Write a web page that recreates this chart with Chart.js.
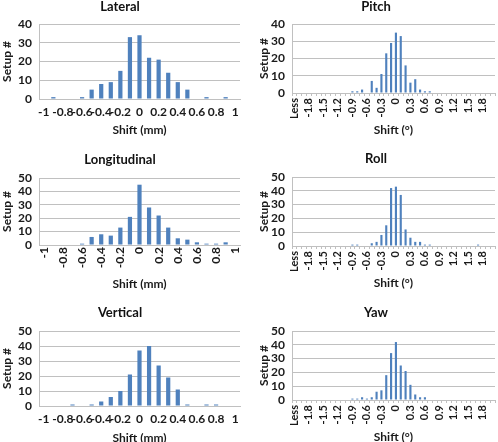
<!DOCTYPE html>
<html>
<head>
<meta charset="utf-8">
<script src="https://cdn.jsdelivr.net/npm/chart.js@4.4.1/dist/chart.umd.min.js"></script>
<style>
  html, body { margin: 0; padding: 0; background: #fff; width: 498px; height: 442px; overflow: hidden; }
  canvas { position: absolute; }
</style>
</head>
<body>
<canvas id="lateral"></canvas>
<canvas id="pitch"></canvas>
<canvas id="longitudinal"></canvas>
<canvas id="roll"></canvas>
<canvas id="vertical"></canvas>
<canvas id="yaw"></canvas>
<script>
// shift bins in mm
var mmBins = ['-1','-0.9','-0.8','-0.7','-0.6','-0.5','-0.4','-0.3','-0.2','-0.1','0',
              '0.1','0.2','0.3','0.4','0.5','0.6','0.7','0.8','0.9','1'];
// shift bins in degrees
var degBins = ['Less','-2','-1.9','-1.8','-1.7','-1.6','-1.5','-1.4','-1.3','-1.2','-1.1','-1',
               '-0.9','-0.8','-0.7','-0.6','-0.5','-0.4','-0.3','-0.2','-0.1','0',
               '0.1','0.2','0.3','0.4','0.5','0.6','0.7','0.8','0.9','1',
               '1.1','1.2','1.3','1.4','1.5','1.6','1.7','1.8','1.9','2'];

var lateral      = [0,1,0,0,1,5,8,9,15,33,34,22,21,14,9,5,0,1,0,1,0];
var longitudinal = [0,0,0,0,1,6,8,7,13,21,45,28,22,13,5,4,2,1,1,2,0];
var vertical     = [0,0,0,1,0,1,3,6,10,21,37,40,27,19,11,1,0,1,1,0,0];

var pitch = [0,0,0,0,0,0,0,0,0,0,0,0,
             1,1,2,0,7,3,11,23,29,35,33,16,6,8,2,1,1,
             0,0,0,0,0,0,0,0,0,0,0,0,0];
var roll  = [0,0,0,0,0,0,0,0,0,0,0,0,
             1,1,0,0,2,3,8,15,42,43,37,12,6,3,3,1,1,
             0,0,0,0,0,0,0,0,0,1,0,0,0];
var yaw   = [0,0,0,0,0,0,0,0,0,0,0,0,
             1,1,2,1,2,6,7,18,34,42,25,21,11,4,2,2,
             0,0,0,0,0,0,0,0,0,0,0,0,0,0];

Chart.defaults.font.family = 'Lato, "Open Sans", sans-serif';
Chart.defaults.font.weight = 'bold';
Chart.defaults.font.size = 11;
Chart.defaults.color = '#1a1a1a';

var BLUE = '#4F81BD';
var GRID = '#c0c0c0';

function makeChart(p) {
  var el = document.getElementById(p.id);
  el.style.left = p.left + 'px';
  el.style.top = p.top + 'px';
  el.width = p.w;
  el.height = p.h;
  new Chart(el, {
    type: 'bar',
    data: {
      labels: p.labels,
      datasets: [{ data: p.values, backgroundColor: BLUE, barPercentage: 0.44, categoryPercentage: 1 }]
    },
    options: {
      responsive: false,
      animation: false,
      layout: { padding: { left: p.padLeft, right: p.padRight, top: 0, bottom: 0 } },
      plugins: {
        legend: { display: false },
        tooltip: { enabled: false },
        title: {
          display: true, text: p.title,
          font: { size: 13, weight: 'bold', lineHeight: 1.1 }, color: '#111',
          padding: { top: p.titleTop, bottom: p.titleBottom }
        }
      },
      scales: {
        x: {
          offset: true,
          grid: { display: p.tickMarks, drawOnChartArea: false, drawTicks: p.tickMarks, tickLength: 3, offset: true, color: GRID },
          border: { display: true, color: GRID },
          ticks: {
            autoSkip: false,
            minRotation: p.rotate, maxRotation: p.rotate,
            padding: p.rotate ? 2 : 6,
            font: { size: p.tickSize, weight: 'bold' },
            callback: function (v, i) { return i % p.every === 0 ? this.getLabelForValue(v) : ''; }
          },
          title: { display: true, text: p.xTitle, font: { size: 12, weight: 'bold', lineHeight: 1.1 }, padding: 0 },
          afterFit: function (s) { s.height = p.xHeight; s.paddingLeft = 0; s.paddingRight = 0; }
        },
        y: {
          min: 0, max: p.max,
          grid: { color: GRID, drawTicks: false },
          border: { display: true, color: GRID },
          ticks: { stepSize: 10, count: p.max / 10 + 1, autoSkip: false, padding: 7,
                   font: { size: 12, weight: 'bold', lineHeight: 1 } },
          title: { display: true, text: 'Setup #', font: { size: 12, weight: 'bold', lineHeight: 1.1 }, padding: { top: 1, bottom: 0 } },
          afterFit: function (s) { s.width = p.yWidth; }
        }
      }
    }
  });
}

makeChart({ id: 'lateral', title: 'Lateral', labels: mmBins, values: lateral, max: 40, xTitle: 'Shift (mm)',
  left: 0, top: 0, w: 248, h: 137, padLeft: 0, padRight: 8, yWidth: 39, xHeight: 38,
  titleTop: 0, titleBottom: 9.7, rotate: 0, every: 2, tickMarks: false, tickSize: 12 });
makeChart({ id: 'pitch', title: 'Pitch', labels: degBins, values: pitch, max: 40, xTitle: 'Shift (°)',
  left: 250, top: 0, w: 248, h: 137, padLeft: 7, padRight: 3, yWidth: 35, xHeight: 44,
  titleTop: 0, titleBottom: 9.7, rotate: 90, every: 3, tickMarks: true, tickSize: 11 });
makeChart({ id: 'longitudinal', title: 'Longitudinal', labels: mmBins, values: longitudinal, max: 50, xTitle: 'Shift (mm)',
  left: 0, top: 145, w: 248, h: 146, padLeft: 0, padRight: 8, yWidth: 39, xHeight: 46,
  titleTop: 7.8, titleBottom: 10.9, rotate: 90, every: 2, tickMarks: false, tickSize: 12 });
makeChart({ id: 'roll', title: 'Roll', labels: degBins, values: roll, max: 50, xTitle: 'Shift (°)',
  left: 250, top: 145, w: 248, h: 145, padLeft: 7, padRight: 3, yWidth: 35, xHeight: 44,
  titleTop: 6.8, titleBottom: 10.9, rotate: 90, every: 3, tickMarks: true, tickSize: 11 });
makeChart({ id: 'vertical', title: 'Vertical', labels: mmBins, values: vertical, max: 50, xTitle: 'Shift (mm)',
  left: 0, top: 292, w: 248, h: 153, padLeft: 0, padRight: 8, yWidth: 39, xHeight: 39,
  titleTop: 13.8, titleBottom: 10.9, rotate: 0, every: 2, tickMarks: false, tickSize: 12 });
makeChart({ id: 'yaw', title: 'Yaw', labels: degBins, values: yaw, max: 50, xTitle: 'Shift (°)',
  left: 250, top: 292, w: 248, h: 152, padLeft: 7, padRight: 3, yWidth: 35, xHeight: 44,
  titleTop: 13.8, titleBottom: 10.9, rotate: 90, every: 3, tickMarks: true, tickSize: 11 });
</script>
</body>
</html>
